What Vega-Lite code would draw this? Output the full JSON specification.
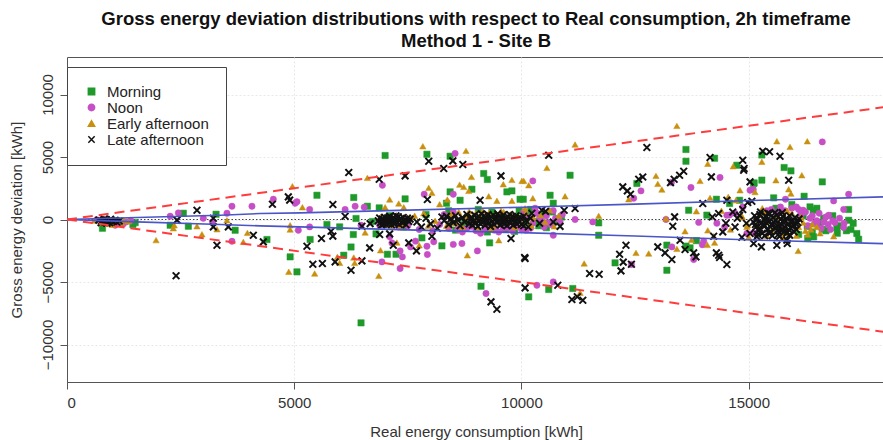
{
"$schema":"https://vega.github.io/schema/vega-lite/v6.json",
"width":818,"height":325,
"autosize":{"type":"none"},
"padding":{"left":67,"top":57,"right":0,"bottom":58},
"background":"white",
"title":{"text":["Gross energy deviation distributions with respect to Real consumption, 2h timeframe","Method 1 - Site B"],"font":"Liberation Sans","fontSize":18.5,"fontWeight":"bold","color":"#111","anchor":"middle","frame":"group","offset":7,"lineHeight":22},
"config":{
"view":{"stroke":"#555","strokeWidth":1},
"axis":{"labelFont":"Liberation Sans","labelFontSize":15,"labelColor":"#333","tickColor":"#555","tickSize":7,"domainColor":"#555","titleFont":"Liberation Sans","titleFontSize":15,"titleFontWeight":"normal","titleColor":"#333","grid":true,"gridColor":"#e8e8e8","gridDash":[2,2]},
"legend":{"orient":"none","legendX":0,"legendY":10,"fillColor":"white","strokeColor":"#444","padding":17,"labelFont":"Liberation Sans","labelFontSize":15,"labelColor":"#222","symbolSize":40,"symbolStrokeWidth":1.5,"rowPadding":0,"labelOffset":8,"labelLimit":300}
},
"datasets":{
"lines":[
{"g":"zero","x":0,"y":0},{"g":"zero","x":18000,"y":0},
{"g":"r_up","x":0,"y":0},{"g":"r_up","x":18000,"y":9000},
{"g":"r_lo","x":0,"y":0},{"g":"r_lo","x":18000,"y":-9000},
{"g":"b_up","x":0,"y":0},{"g":"b_up","x":1540,"y":160},{"g":"b_up","x":3370,"y":340},{"g":"b_up","x":4250,"y":480},{"g":"b_up","x":5130,"y":530},{"g":"b_up","x":7500,"y":750},{"g":"b_up","x":10000,"y":980},{"g":"b_up","x":12500,"y":1230},{"g":"b_up","x":15250,"y":1540},{"g":"b_up","x":17960,"y":1810},
{"g":"b_lo","x":0,"y":0},{"g":"b_lo","x":1540,"y":-190},{"g":"b_lo","x":3370,"y":-400},{"g":"b_lo","x":4250,"y":-510},{"g":"b_lo","x":5130,"y":-590},{"g":"b_lo","x":7500,"y":-830},{"g":"b_lo","x":10000,"y":-1050},{"g":"b_lo","x":12500,"y":-1320},{"g":"b_lo","x":15250,"y":-1660},{"g":"b_lo","x":17960,"y":-1930}
],
"pts":[
{"s":"Morning","x":780,"y":-700},{"s":"Morning","x":1100,"y":-100},{"s":"Morning","x":1500,"y":-250},{"s":"Morning","x":1450,"y":-400},
{"s":"Morning","x":2560,"y":500},{"s":"Morning","x":2270,"y":-460},{"s":"Morning","x":2670,"y":-540},{"s":"Morning","x":3280,"y":420},{"s":"Morning","x":3700,"y":-860},{"s":"Morning","x":4400,"y":-1600},{"s":"Morning","x":4910,"y":-2990},{"s":"Morning","x":5060,"y":-4190},{"s":"Morning","x":5350,"y":-1600},
{"s":"Morning","x":7000,"y":5120},{"s":"Morning","x":7920,"y":5220},{"s":"Morning","x":8430,"y":5060},{"s":"Morning","x":9170,"y":3680},{"s":"Morning","x":9250,"y":3200},{"s":"Morning","x":5500,"y":1940},{"s":"Morning","x":7440,"y":1650},{"s":"Morning","x":6310,"y":1760},{"s":"Morning","x":6610,"y":1060},{"s":"Morning","x":6870,"y":930},{"s":"Morning","x":6360,"y":80},{"s":"Morning","x":6720,"y":-160},{"s":"Morning","x":5720,"y":-400},{"s":"Morning","x":6000,"y":-590},{"s":"Morning","x":6300,"y":-1200},{"s":"Morning","x":6800,"y":-1150},{"s":"Morning","x":7810,"y":-1470},{"s":"Morning","x":6250,"y":-2200},{"s":"Morning","x":7050,"y":-2780},{"s":"Morning","x":7240,"y":-2780},{"s":"Morning","x":6090,"y":-2860},{"s":"Morning","x":6470,"y":-8270},{"s":"Morning","x":8250,"y":-2110},{"s":"Morning","x":9300,"y":-1870},{"s":"Morning","x":9110,"y":-5340},{"s":"Morning","x":10160,"y":-6190},{"s":"Morning","x":9680,"y":2210},{"s":"Morning","x":9790,"y":2290},{"s":"Morning","x":9970,"y":1620},{"s":"Morning","x":8910,"y":2420},{"s":"Morning","x":8650,"y":1540},{"s":"Morning","x":8430,"y":2210},{"s":"Morning","x":8350,"y":1300},
{"s":"Morning","x":11070,"y":3540},{"s":"Morning","x":13620,"y":5600},{"s":"Morning","x":13620,"y":4660},{"s":"Morning","x":14250,"y":4900},{"s":"Morning","x":12540,"y":2880},{"s":"Morning","x":10040,"y":1620},{"s":"Morning","x":10630,"y":1940},{"s":"Morning","x":10700,"y":1300},{"s":"Morning","x":11700,"y":-270},{"s":"Morning","x":11700,"y":-1260},{"s":"Morning","x":10600,"y":-5600},{"s":"Morning","x":11130,"y":-5520},{"s":"Morning","x":12060,"y":-3470},{"s":"Morning","x":13200,"y":-2050},{"s":"Morning","x":13200,"y":-4060},{"s":"Morning","x":13620,"y":-2130},{"s":"Morning","x":13710,"y":-2270},{"s":"Morning","x":13850,"y":-1690},{"s":"Morning","x":13680,"y":740},{"s":"Morning","x":14080,"y":350},{"s":"Morning","x":14290,"y":1620},{"s":"Morning","x":14580,"y":1280},{"s":"Morning","x":14800,"y":1540},{"s":"Morning","x":14740,"y":4340},{"s":"Morning","x":15110,"y":2870},
{"s":"Morning","x":15290,"y":5160},{"s":"Morning","x":15780,"y":4160},{"s":"Morning","x":15930,"y":3890},{"s":"Morning","x":16620,"y":3010},{"s":"Morning","x":16220,"y":1860},{"s":"Morning","x":15550,"y":1730},{"s":"Morning","x":15120,"y":2930},{"s":"Morning","x":15290,"y":3150},{"s":"Morning","x":17200,"y":800},{"s":"Morning","x":16350,"y":1010},{"s":"Morning","x":16420,"y":740},{"s":"Morning","x":17200,"y":-60},{"s":"Morning","x":17300,"y":-300},{"s":"Morning","x":16940,"y":-640},{"s":"Morning","x":17380,"y":-1120},{"s":"Morning","x":17420,"y":-1580},{"s":"Morning","x":16620,"y":-780},{"s":"Morning","x":16430,"y":-1390},{"s":"Morning","x":16290,"y":-550},
{"s":"Morning","x":7100,"y":300},{"s":"Morning","x":7400,"y":-600},{"s":"Morning","x":7900,"y":400},{"s":"Morning","x":8400,"y":700},{"s":"Morning","x":8750,"y":-350},{"s":"Morning","x":9050,"y":800},{"s":"Morning","x":9350,"y":600},{"s":"Morning","x":9650,"y":-800},{"s":"Morning","x":9950,"y":700},{"s":"Morning","x":10150,"y":300},{"s":"Morning","x":8550,"y":-850},{"s":"Morning","x":9250,"y":-1000},{"s":"Morning","x":9850,"y":-950},
{"s":"Morning","x":10100,"y":-200},{"s":"Morning","x":10200,"y":800},{"s":"Morning","x":10380,"y":-500},{"s":"Morning","x":10480,"y":400},{"s":"Morning","x":10580,"y":-300},{"s":"Morning","x":10680,"y":600},{"s":"Morning","x":10780,"y":-100},{"s":"Morning","x":10880,"y":200},{"s":"Morning","x":10350,"y":-150},{"s":"Morning","x":10550,"y":-650},
{"s":"Morning","x":16200,"y":300},{"s":"Morning","x":16400,"y":-1000},{"s":"Morning","x":16550,"y":-300},{"s":"Morning","x":16700,"y":-900},{"s":"Morning","x":16850,"y":300},{"s":"Morning","x":17000,"y":-500},{"s":"Morning","x":17150,"y":-900},{"s":"Morning","x":16300,"y":-1500},{"s":"Morning","x":16650,"y":100},{"s":"Morning","x":16950,"y":-1100},{"s":"Morning","x":17250,"y":-800},{"s":"Morning","x":16100,"y":-1200},{"s":"Morning","x":15950,"y":1200},{"s":"Morning","x":16500,"y":900},{"s":"Morning","x":15600,"y":900},

{"s":"Noon","x":650,"y":-20},{"s":"Noon","x":1060,"y":-460},{"s":"Noon","x":1150,"y":-300},{"s":"Noon","x":1300,"y":-200},{"s":"Noon","x":1400,"y":-80},{"s":"Noon","x":1230,"y":-380},
{"s":"Noon","x":2450,"y":530},{"s":"Noon","x":2270,"y":260},{"s":"Noon","x":3000,"y":100},{"s":"Noon","x":3200,"y":-200},{"s":"Noon","x":3520,"y":500},{"s":"Noon","x":3630,"y":1060},{"s":"Noon","x":3630,"y":-1740},{"s":"Noon","x":4070,"y":1060},{"s":"Noon","x":4540,"y":1620},{"s":"Noon","x":5020,"y":1300},{"s":"Noon","x":5090,"y":-860},{"s":"Noon","x":5060,"y":1420},{"s":"Noon","x":5340,"y":800},{"s":"Noon","x":5340,"y":-590},
{"s":"Noon","x":8540,"y":5280},{"s":"Noon","x":6940,"y":2740},{"s":"Noon","x":7860,"y":2020},{"s":"Noon","x":6340,"y":1060},{"s":"Noon","x":6540,"y":980},{"s":"Noon","x":6120,"y":800},{"s":"Noon","x":6470,"y":-460},{"s":"Noon","x":7150,"y":-1870},{"s":"Noon","x":7330,"y":-2510},{"s":"Noon","x":7560,"y":-2190},{"s":"Noon","x":7670,"y":-1730},{"s":"Noon","x":7920,"y":-2140},{"s":"Noon","x":7930,"y":-2800},{"s":"Noon","x":8070,"y":-1780},{"s":"Noon","x":6930,"y":-3390},{"s":"Noon","x":7330,"y":-3920},{"s":"Noon","x":7380,"y":-2990},{"s":"Noon","x":9030,"y":-2510},{"s":"Noon","x":8690,"y":-1920},{"s":"Noon","x":8500,"y":-1990},{"s":"Noon","x":9220,"y":-5920},{"s":"Noon","x":8500,"y":2020},{"s":"Noon","x":7100,"y":-1380},
{"s":"Noon","x":10250,"y":3090},{"s":"Noon","x":14370,"y":3360},{"s":"Noon","x":13300,"y":2970},{"s":"Noon","x":13730,"y":2560},{"s":"Noon","x":12630,"y":2290},{"s":"Noon","x":12470,"y":1700},{"s":"Noon","x":11180,"y":0},{"s":"Noon","x":11570,"y":-190},{"s":"Noon","x":10700,"y":-1260},{"s":"Noon","x":10700,"y":-4990},{"s":"Noon","x":10340,"y":-5260},{"s":"Noon","x":12420,"y":-3600},{"s":"Noon","x":13310,"y":-2190},{"s":"Noon","x":13790,"y":-3200},{"s":"Noon","x":13980,"y":-2020},{"s":"Noon","x":13900,"y":-230},{"s":"Noon","x":14580,"y":360},{"s":"Noon","x":14870,"y":1010},{"s":"Noon","x":15030,"y":2340},{"s":"Noon","x":15100,"y":-1070},{"s":"Noon","x":13180,"y":0},
{"s":"Noon","x":16620,"y":6210},{"s":"Noon","x":17200,"y":2020},{"s":"Noon","x":15810,"y":1620},{"s":"Noon","x":16870,"y":1490},{"s":"Noon","x":15100,"y":2400},{"s":"Noon","x":17090,"y":800},{"s":"Noon","x":16200,"y":740},{"s":"Noon","x":16760,"y":340},{"s":"Noon","x":17090,"y":-640},{"s":"Noon","x":16500,"y":-300},{"s":"Noon","x":14470,"y":-590},{"s":"Noon","x":14520,"y":340},{"s":"Noon","x":14010,"y":-1740},{"s":"Noon","x":14960,"y":-1120},
{"s":"Noon","x":7000,"y":-300},{"s":"Noon","x":7300,"y":-600},{"s":"Noon","x":7500,"y":-500},{"s":"Noon","x":6880,"y":-450},
{"s":"Noon","x":7750,"y":-800},{"s":"Noon","x":8050,"y":-900},{"s":"Noon","x":8200,"y":-400},
{"s":"Noon","x":8400,"y":-700},{"s":"Noon","x":8600,"y":-800},{"s":"Noon","x":8800,"y":-700},{"s":"Noon","x":9000,"y":-900},{"s":"Noon","x":9200,"y":-750},{"s":"Noon","x":9400,"y":-850},{"s":"Noon","x":9600,"y":-700},{"s":"Noon","x":9800,"y":-900},{"s":"Noon","x":10000,"y":-750},{"s":"Noon","x":8500,"y":600},{"s":"Noon","x":8900,"y":-550},{"s":"Noon","x":9300,"y":-600},{"s":"Noon","x":9700,"y":-650},{"s":"Noon","x":10100,"y":-850},{"s":"Noon","x":8700,"y":-1000},{"s":"Noon","x":9100,"y":-1100},{"s":"Noon","x":9500,"y":-1000},{"s":"Noon","x":9900,"y":-550},{"s":"Noon","x":10200,"y":-700},{"s":"Noon","x":8300,"y":400},
{"s":"Noon","x":10050,"y":600},{"s":"Noon","x":10150,"y":200},{"s":"Noon","x":10250,"y":-300},{"s":"Noon","x":10350,"y":500},{"s":"Noon","x":10450,"y":-100},{"s":"Noon","x":10550,"y":300},{"s":"Noon","x":10650,"y":-400},{"s":"Noon","x":10750,"y":100},{"s":"Noon","x":10850,"y":-200},{"s":"Noon","x":10300,"y":900},{"s":"Noon","x":10500,"y":-600},{"s":"Noon","x":10700,"y":700},{"s":"Noon","x":10400,"y":100},{"s":"Noon","x":10600,"y":-250},{"s":"Noon","x":10900,"y":400},
{"s":"Noon","x":15500,"y":800},{"s":"Noon","x":15650,"y":600},{"s":"Noon","x":15800,"y":700},{"s":"Noon","x":15950,"y":900},{"s":"Noon","x":16100,"y":800},{"s":"Noon","x":16250,"y":600},{"s":"Noon","x":16400,"y":300},{"s":"Noon","x":16550,"y":500},{"s":"Noon","x":16700,"y":200},{"s":"Noon","x":16850,"y":-100},{"s":"Noon","x":16300,"y":-500},{"s":"Noon","x":16450,"y":-300},{"s":"Noon","x":16600,"y":-700},{"s":"Noon","x":16750,"y":-400},{"s":"Noon","x":16900,"y":-250},{"s":"Noon","x":17000,"y":100},{"s":"Noon","x":16150,"y":400},{"s":"Noon","x":16350,"y":100},{"s":"Noon","x":16050,"y":1000},{"s":"Noon","x":15700,"y":1000},{"s":"Noon","x":16650,"y":-200},{"s":"Noon","x":16800,"y":-800},{"s":"Noon","x":17100,"y":-300},{"s":"Noon","x":16500,"y":-100},{"s":"Noon","x":15400,"y":700},
{"s":"Noon","x":14300,"y":-300},{"s":"Noon","x":14700,"y":500},

{"s":"Early afternoon","x":600,"y":-80},{"s":"Early afternoon","x":900,"y":-350},{"s":"Early afternoon","x":1200,"y":-250},{"s":"Early afternoon","x":1350,"y":-150},{"s":"Early afternoon","x":1000,"y":-420},{"s":"Early afternoon","x":1250,"y":-50},
{"s":"Early afternoon","x":1960,"y":-1650},{"s":"Early afternoon","x":2340,"y":-700},{"s":"Early afternoon","x":2360,"y":-460},{"s":"Early afternoon","x":2860,"y":-540},{"s":"Early afternoon","x":2970,"y":-1180},{"s":"Early afternoon","x":3300,"y":-780},{"s":"Early afternoon","x":3970,"y":-1070},{"s":"Early afternoon","x":3880,"y":-1790},{"s":"Early afternoon","x":3520,"y":-60},{"s":"Early afternoon","x":4960,"y":2660},{"s":"Early afternoon","x":4910,"y":-460},{"s":"Early afternoon","x":4880,"y":-4180},{"s":"Early afternoon","x":4910,"y":-800},{"s":"Early afternoon","x":5180,"y":980},
{"s":"Early afternoon","x":7830,"y":5860},{"s":"Early afternoon","x":8780,"y":5490},{"s":"Early afternoon","x":6610,"y":3330},{"s":"Early afternoon","x":8900,"y":3410},{"s":"Early afternoon","x":7960,"y":2530},{"s":"Early afternoon","x":8030,"y":2130},{"s":"Early afternoon","x":7100,"y":1600},{"s":"Early afternoon","x":7000,"y":980},{"s":"Early afternoon","x":7300,"y":1280},{"s":"Early afternoon","x":7410,"y":980},{"s":"Early afternoon","x":6560,"y":-1040},{"s":"Early afternoon","x":7260,"y":-1840},{"s":"Early afternoon","x":7750,"y":-2060},{"s":"Early afternoon","x":6900,"y":-2460},{"s":"Early afternoon","x":6860,"y":-4510},{"s":"Early afternoon","x":5950,"y":-2990},{"s":"Early afternoon","x":6000,"y":-3470},{"s":"Early afternoon","x":6310,"y":-3040},{"s":"Early afternoon","x":6330,"y":-3470},{"s":"Early afternoon","x":5450,"y":-4320},{"s":"Early afternoon","x":8810,"y":-2860},{"s":"Early afternoon","x":9500,"y":-1660},{"s":"Early afternoon","x":9600,"y":2820},{"s":"Early afternoon","x":9790,"y":3170},{"s":"Early afternoon","x":10010,"y":3090},{"s":"Early afternoon","x":9790,"y":1500},{"s":"Early afternoon","x":8730,"y":2610},{"s":"Early afternoon","x":8840,"y":2290},{"s":"Early afternoon","x":8640,"y":2790},{"s":"Early afternoon","x":8200,"y":1220},{"s":"Early afternoon","x":9280,"y":1860},{"s":"Early afternoon","x":9460,"y":1500},{"s":"Early afternoon","x":8370,"y":1600},
{"s":"Early afternoon","x":13420,"y":7490},{"s":"Early afternoon","x":11180,"y":6000},{"s":"Early afternoon","x":10560,"y":4130},{"s":"Early afternoon","x":14100,"y":4460},{"s":"Early afternoon","x":13930,"y":3090},{"s":"Early afternoon","x":12960,"y":3490},{"s":"Early afternoon","x":13090,"y":2400},{"s":"Early afternoon","x":13000,"y":2850},{"s":"Early afternoon","x":12360,"y":1620},{"s":"Early afternoon","x":10050,"y":3090},{"s":"Early afternoon","x":10160,"y":2740},{"s":"Early afternoon","x":10250,"y":1700},{"s":"Early afternoon","x":10960,"y":1860},{"s":"Early afternoon","x":11700,"y":290},{"s":"Early afternoon","x":11380,"y":-3520},{"s":"Early afternoon","x":12520,"y":-2670},{"s":"Early afternoon","x":12800,"y":-2720},{"s":"Early afternoon","x":13420,"y":-2350},{"s":"Early afternoon","x":13600,"y":-940},{"s":"Early afternoon","x":13740,"y":-1630},{"s":"Early afternoon","x":14090,"y":-2030},{"s":"Early afternoon","x":14250,"y":-1850},{"s":"Early afternoon","x":14230,"y":-1340},{"s":"Early afternoon","x":13180,"y":80},{"s":"Early afternoon","x":13850,"y":660},{"s":"Early afternoon","x":14150,"y":1730},{"s":"Early afternoon","x":14550,"y":1810},{"s":"Early afternoon","x":14720,"y":1540},{"s":"Early afternoon","x":14860,"y":180},{"s":"Early afternoon","x":14810,"y":2340},{"s":"Early afternoon","x":14660,"y":4260},{"s":"Early afternoon","x":14980,"y":-460},{"s":"Early afternoon","x":14100,"y":-870},{"s":"Early afternoon","x":11290,"y":-5860},
{"s":"Early afternoon","x":15620,"y":6260},{"s":"Early afternoon","x":16290,"y":6260},{"s":"Early afternoon","x":15910,"y":5810},{"s":"Early afternoon","x":15290,"y":4620},{"s":"Early afternoon","x":16170,"y":3540},{"s":"Early afternoon","x":15600,"y":3140},{"s":"Early afternoon","x":15880,"y":2420},{"s":"Early afternoon","x":15930,"y":2070},{"s":"Early afternoon","x":15140,"y":2200},{"s":"Early afternoon","x":16870,"y":-1340},{"s":"Early afternoon","x":16570,"y":-1100},{"s":"Early afternoon","x":16090,"y":-2510},{"s":"Early afternoon","x":16370,"y":-800},{"s":"Early afternoon","x":14850,"y":280},{"s":"Early afternoon","x":14960,"y":-590},{"s":"Early afternoon","x":15000,"y":-1390},
{"s":"Early afternoon","x":6900,"y":200},{"s":"Early afternoon","x":7050,"y":-400},{"s":"Early afternoon","x":7250,"y":350},{"s":"Early afternoon","x":7450,"y":-300},{"s":"Early afternoon","x":7150,"y":-500},{"s":"Early afternoon","x":7550,"y":200},{"s":"Early afternoon","x":7350,"y":-480},{"s":"Early afternoon","x":6950,"y":-200},
{"s":"Early afternoon","x":7650,"y":300},{"s":"Early afternoon","x":7850,"y":500},{"s":"Early afternoon","x":8100,"y":-100},{"s":"Early afternoon","x":7950,"y":-500},
{"s":"Early afternoon","x":8350,"y":-500},{"s":"Early afternoon","x":8450,"y":400},{"s":"Early afternoon","x":8550,"y":-300},{"s":"Early afternoon","x":8620,"y":600},{"s":"Early afternoon","x":8700,"y":-600},{"s":"Early afternoon","x":8780,"y":250},{"s":"Early afternoon","x":8850,"y":650},{"s":"Early afternoon","x":8930,"y":-200},{"s":"Early afternoon","x":9000,"y":500},{"s":"Early afternoon","x":9050,"y":-650},{"s":"Early afternoon","x":9130,"y":200},{"s":"Early afternoon","x":9210,"y":-300},{"s":"Early afternoon","x":9290,"y":550},{"s":"Early afternoon","x":9370,"y":-550},{"s":"Early afternoon","x":9450,"y":300},{"s":"Early afternoon","x":9530,"y":-350},{"s":"Early afternoon","x":9610,"y":600},{"s":"Early afternoon","x":9690,"y":-200},{"s":"Early afternoon","x":9770,"y":450},{"s":"Early afternoon","x":9850,"y":-600},{"s":"Early afternoon","x":9930,"y":300},{"s":"Early afternoon","x":10020,"y":-350},{"s":"Early afternoon","x":10100,"y":500},{"s":"Early afternoon","x":8480,"y":-150},{"s":"Early afternoon","x":9150,"y":700},{"s":"Early afternoon","x":9550,"y":700},{"s":"Early afternoon","x":9330,"y":-700},{"s":"Early afternoon","x":8980,"y":50},{"s":"Early afternoon","x":9720,"y":50},{"s":"Early afternoon","x":10180,"y":-450},
{"s":"Early afternoon","x":10080,"y":900},{"s":"Early afternoon","x":10220,"y":-500},{"s":"Early afternoon","x":10420,"y":350},{"s":"Early afternoon","x":10520,"y":-200},{"s":"Early afternoon","x":10620,"y":750},{"s":"Early afternoon","x":10720,"y":-550},{"s":"Early afternoon","x":10820,"y":300},{"s":"Early afternoon","x":10260,"y":150},
{"s":"Early afternoon","x":15200,"y":-400},{"s":"Early afternoon","x":15350,"y":600},{"s":"Early afternoon","x":15500,"y":-900},{"s":"Early afternoon","x":15650,"y":200},{"s":"Early afternoon","x":15800,"y":-1100},{"s":"Early afternoon","x":15950,"y":500},{"s":"Early afternoon","x":16100,"y":-600},{"s":"Early afternoon","x":16250,"y":-900},{"s":"Early afternoon","x":16400,"y":-400},{"s":"Early afternoon","x":16150,"y":200},{"s":"Early afternoon","x":15400,"y":-1300},{"s":"Early afternoon","x":15750,"y":-1450},{"s":"Early afternoon","x":16050,"y":-1300},{"s":"Early afternoon","x":16300,"y":-1200},{"s":"Early afternoon","x":16500,"y":-600},{"s":"Early afternoon","x":15300,"y":900},{"s":"Early afternoon","x":16200,"y":-250},{"s":"Early afternoon","x":15850,"y":700},
{"s":"Early afternoon","x":14400,"y":700},{"s":"Early afternoon","x":14600,"y":-800},

{"s":"Late afternoon","x":700,"y":-50},{"s":"Late afternoon","x":760,"y":-120},{"s":"Late afternoon","x":800,"y":-80},{"s":"Late afternoon","x":830,"y":-200},{"s":"Late afternoon","x":870,"y":-30},{"s":"Late afternoon","x":900,"y":-150},{"s":"Late afternoon","x":940,"y":-260},{"s":"Late afternoon","x":980,"y":-100},{"s":"Late afternoon","x":1020,"y":-180},{"s":"Late afternoon","x":1060,"y":-60},{"s":"Late afternoon","x":1100,"y":-220},{"s":"Late afternoon","x":880,"y":-300},{"s":"Late afternoon","x":750,"y":-250},{"s":"Late afternoon","x":960,"y":20},{"s":"Late afternoon","x":1150,"y":-120},{"s":"Late afternoon","x":820,"y":40},
{"s":"Late afternoon","x":2400,"y":-4500},{"s":"Late afternoon","x":2420,"y":-50},{"s":"Late afternoon","x":2860,"y":740},{"s":"Late afternoon","x":3220,"y":100},{"s":"Late afternoon","x":3220,"y":-590},{"s":"Late afternoon","x":3300,"y":-2060},{"s":"Late afternoon","x":3550,"y":-590},{"s":"Late afternoon","x":4100,"y":-1260},{"s":"Late afternoon","x":4320,"y":-1790},{"s":"Late afternoon","x":4520,"y":1220},{"s":"Late afternoon","x":4870,"y":1810},{"s":"Late afternoon","x":4900,"y":1550},
{"s":"Late afternoon","x":7960,"y":4660},{"s":"Late afternoon","x":8490,"y":4690},{"s":"Late afternoon","x":8710,"y":4400},{"s":"Late afternoon","x":8290,"y":4080},{"s":"Late afternoon","x":6200,"y":3760},{"s":"Late afternoon","x":6870,"y":3220},{"s":"Late afternoon","x":7440,"y":3490},{"s":"Late afternoon","x":9550,"y":3490},{"s":"Late afternoon","x":7930,"y":1600},{"s":"Late afternoon","x":5850,"y":1200},{"s":"Late afternoon","x":6120,"y":260},{"s":"Late afternoon","x":6490,"y":-540},{"s":"Late afternoon","x":6670,"y":-330},{"s":"Late afternoon","x":5810,"y":-940},{"s":"Late afternoon","x":5850,"y":-1330},{"s":"Late afternoon","x":6880,"y":-1200},{"s":"Late afternoon","x":7100,"y":-1150},{"s":"Late afternoon","x":5600,"y":-1520},{"s":"Late afternoon","x":5280,"y":-2140},{"s":"Late afternoon","x":6660,"y":-2270},{"s":"Late afternoon","x":7180,"y":-2060},{"s":"Late afternoon","x":7520,"y":-1870},{"s":"Late afternoon","x":7690,"y":-2510},{"s":"Late afternoon","x":8030,"y":-1340},{"s":"Late afternoon","x":5900,"y":-3390},{"s":"Late afternoon","x":6490,"y":-3310},{"s":"Late afternoon","x":6250,"y":-4060},{"s":"Late afternoon","x":5410,"y":-3580},{"s":"Late afternoon","x":5620,"y":-3520},{"s":"Late afternoon","x":9770,"y":-1520},{"s":"Late afternoon","x":10080,"y":-3120},{"s":"Late afternoon","x":9330,"y":-6590},{"s":"Late afternoon","x":9460,"y":-7180},{"s":"Late afternoon","x":10080,"y":-5470},{"s":"Late afternoon","x":9090,"y":1540},
{"s":"Late afternoon","x":12760,"y":5760},{"s":"Late afternoon","x":10600,"y":5140},{"s":"Late afternoon","x":14150,"y":4960},{"s":"Late afternoon","x":14180,"y":3410},{"s":"Late afternoon","x":13570,"y":3860},{"s":"Late afternoon","x":13480,"y":3540},{"s":"Late afternoon","x":13360,"y":3220},{"s":"Late afternoon","x":13280,"y":2950},{"s":"Late afternoon","x":12580,"y":3220},{"s":"Late afternoon","x":12670,"y":3400},{"s":"Late afternoon","x":12230,"y":2610},{"s":"Late afternoon","x":12330,"y":2290},{"s":"Late afternoon","x":12400,"y":2020},{"s":"Late afternoon","x":10450,"y":740},{"s":"Late afternoon","x":11180,"y":880},{"s":"Late afternoon","x":10940,"y":740},{"s":"Late afternoon","x":10070,"y":-3040},{"s":"Late afternoon","x":11500,"y":-4320},{"s":"Late afternoon","x":11710,"y":-4380},{"s":"Late afternoon","x":10800,"y":-5260},{"s":"Late afternoon","x":11110,"y":-6400},{"s":"Late afternoon","x":11230,"y":-6180},{"s":"Late afternoon","x":11350,"y":-6460},{"s":"Late afternoon","x":12300,"y":-2060},{"s":"Late afternoon","x":12160,"y":-2780},{"s":"Late afternoon","x":12240,"y":-3410},{"s":"Late afternoon","x":12420,"y":-3580},{"s":"Late afternoon","x":12190,"y":-4110},{"s":"Late afternoon","x":13000,"y":-2190},{"s":"Late afternoon","x":13160,"y":-2670},{"s":"Late afternoon","x":13310,"y":-3200},{"s":"Late afternoon","x":13490,"y":-1660},{"s":"Late afternoon","x":13600,"y":-2400},{"s":"Late afternoon","x":13790,"y":-2670},{"s":"Late afternoon","x":13840,"y":-2990},{"s":"Late afternoon","x":14290,"y":-2670},{"s":"Late afternoon","x":14360,"y":-3040},{"s":"Late afternoon","x":14520,"y":-3600},{"s":"Late afternoon","x":13370,"y":210},{"s":"Late afternoon","x":13330,"y":-540},{"s":"Late afternoon","x":13990,"y":1280},{"s":"Late afternoon","x":14340,"y":480},{"s":"Late afternoon","x":14230,"y":-1340},{"s":"Late afternoon","x":14870,"y":800},{"s":"Late afternoon","x":14980,"y":1360},{"s":"Late afternoon","x":14800,"y":330},{"s":"Late afternoon","x":15030,"y":3010},{"s":"Late afternoon","x":14870,"y":4740},{"s":"Late afternoon","x":14900,"y":4080},{"s":"Late afternoon","x":15030,"y":-1120},{"s":"Late afternoon","x":15180,"y":-1380},{"s":"Late afternoon","x":14340,"y":-2860},{"s":"Late afternoon","x":14430,"y":-990},{"s":"Late afternoon","x":14890,"y":3940},{"s":"Late afternoon","x":15070,"y":1460},{"s":"Late afternoon","x":14520,"y":1540},
{"s":"Late afternoon","x":15310,"y":5460},{"s":"Late afternoon","x":15460,"y":5420},{"s":"Late afternoon","x":15690,"y":5060},{"s":"Late afternoon","x":15880,"y":3140},{"s":"Late afternoon","x":15110,"y":-1920},{"s":"Late afternoon","x":15280,"y":-2190},{"s":"Late afternoon","x":15620,"y":-2060},{"s":"Late afternoon","x":15850,"y":-1920},{"s":"Late afternoon","x":15840,"y":-1650},{"s":"Late afternoon","x":14850,"y":-1420},
{"s":"Late afternoon","x":6850,"y":-100},{"s":"Late afternoon","x":6880,"y":120},{"s":"Late afternoon","x":6900,"y":-250},{"s":"Late afternoon","x":6930,"y":30},{"s":"Late afternoon","x":6960,"y":-380},{"s":"Late afternoon","x":6990,"y":180},{"s":"Late afternoon","x":7020,"y":-120},{"s":"Late afternoon","x":7050,"y":-300},{"s":"Late afternoon","x":7080,"y":60},{"s":"Late afternoon","x":7100,"y":250},{"s":"Late afternoon","x":7120,"y":-200},{"s":"Late afternoon","x":7150,"y":-50},{"s":"Late afternoon","x":7180,"y":150},{"s":"Late afternoon","x":7200,"y":-350},{"s":"Late afternoon","x":7230,"y":0},{"s":"Late afternoon","x":7260,"y":-180},{"s":"Late afternoon","x":7290,"y":220},{"s":"Late afternoon","x":7320,"y":-90},{"s":"Late afternoon","x":7350,"y":80},{"s":"Late afternoon","x":7380,"y":-280},{"s":"Late afternoon","x":7400,"y":160},{"s":"Late afternoon","x":7430,"y":-30},{"s":"Late afternoon","x":7460,"y":-420},{"s":"Late afternoon","x":7490,"y":100},{"s":"Late afternoon","x":7520,"y":-150},{"s":"Late afternoon","x":7550,"y":30},{"s":"Late afternoon","x":6970,"y":-60},{"s":"Late afternoon","x":7060,"y":140},{"s":"Late afternoon","x":7210,"y":-260},{"s":"Late afternoon","x":7310,"y":-400},{"s":"Late afternoon","x":7410,"y":-120},{"s":"Late afternoon","x":7140,"y":-420},{"s":"Late afternoon","x":7240,"y":290},{"s":"Late afternoon","x":7000,"y":-320},{"s":"Late afternoon","x":6920,"y":-440},
{"s":"Late afternoon","x":7700,"y":-200},{"s":"Late afternoon","x":7800,"y":-600},{"s":"Late afternoon","x":7900,"y":100},{"s":"Late afternoon","x":8000,"y":-350},{"s":"Late afternoon","x":8150,"y":-700},{"s":"Late afternoon","x":8250,"y":200},
{"s":"Late afternoon","x":8300,"y":-100},{"s":"Late afternoon","x":8350,"y":250},{"s":"Late afternoon","x":8400,"y":-400},{"s":"Late afternoon","x":8450,"y":50},{"s":"Late afternoon","x":8500,"y":-250},{"s":"Late afternoon","x":8550,"y":300},{"s":"Late afternoon","x":8600,"y":-50},{"s":"Late afternoon","x":8650,"y":-500},{"s":"Late afternoon","x":8700,"y":150},{"s":"Late afternoon","x":8750,"y":-200},{"s":"Late afternoon","x":8800,"y":400},{"s":"Late afternoon","x":8850,"y":-350},{"s":"Late afternoon","x":8880,"y":0},{"s":"Late afternoon","x":8900,"y":200},{"s":"Late afternoon","x":8920,"y":-450},{"s":"Late afternoon","x":8950,"y":-100},{"s":"Late afternoon","x":8970,"y":350},{"s":"Late afternoon","x":9000,"y":-250},{"s":"Late afternoon","x":9020,"y":100},{"s":"Late afternoon","x":9040,"y":-550},{"s":"Late afternoon","x":9060,"y":250},{"s":"Late afternoon","x":9080,"y":-50},{"s":"Late afternoon","x":9100,"y":-350},{"s":"Late afternoon","x":9120,"y":450},{"s":"Late afternoon","x":9140,"y":0},{"s":"Late afternoon","x":9160,"y":-200},{"s":"Late afternoon","x":9180,"y":300},{"s":"Late afternoon","x":9200,"y":-450},{"s":"Late afternoon","x":9220,"y":100},{"s":"Late afternoon","x":9240,"y":-100},{"s":"Late afternoon","x":9260,"y":400},{"s":"Late afternoon","x":9280,"y":-300},{"s":"Late afternoon","x":9300,"y":50},{"s":"Late afternoon","x":9320,"y":-550},{"s":"Late afternoon","x":9340,"y":200},{"s":"Late afternoon","x":9360,"y":-150},{"s":"Late afternoon","x":9380,"y":350},{"s":"Late afternoon","x":9400,"y":-400},{"s":"Late afternoon","x":9420,"y":0},{"s":"Late afternoon","x":9440,"y":150},{"s":"Late afternoon","x":9460,"y":-250},{"s":"Late afternoon","x":9480,"y":450},{"s":"Late afternoon","x":9500,"y":-100},{"s":"Late afternoon","x":9520,"y":250},{"s":"Late afternoon","x":9540,"y":-450},{"s":"Late afternoon","x":9560,"y":50},{"s":"Late afternoon","x":9580,"y":-200},{"s":"Late afternoon","x":9600,"y":350},{"s":"Late afternoon","x":9620,"y":-350},{"s":"Late afternoon","x":9640,"y":100},{"s":"Late afternoon","x":9660,"y":-50},{"s":"Late afternoon","x":9680,"y":-500},{"s":"Late afternoon","x":9700,"y":200},{"s":"Late afternoon","x":9720,"y":-150},{"s":"Late afternoon","x":9740,"y":400},{"s":"Late afternoon","x":9760,"y":-300},{"s":"Late afternoon","x":9780,"y":0},{"s":"Late afternoon","x":9800,"y":250},{"s":"Late afternoon","x":9820,"y":-450},{"s":"Late afternoon","x":9840,"y":100},{"s":"Late afternoon","x":9860,"y":-150},{"s":"Late afternoon","x":9880,"y":300},{"s":"Late afternoon","x":9900,"y":-350},{"s":"Late afternoon","x":9920,"y":50},{"s":"Late afternoon","x":9950,"y":-200},{"s":"Late afternoon","x":9980,"y":150},{"s":"Late afternoon","x":10000,"y":-400},{"s":"Late afternoon","x":10050,"y":250},{"s":"Late afternoon","x":10100,"y":-100},{"s":"Late afternoon","x":10150,"y":-600},{"s":"Late afternoon","x":10200,"y":100},
{"s":"Late afternoon","x":10050,"y":-500},{"s":"Late afternoon","x":10230,"y":500},{"s":"Late afternoon","x":10400,"y":-300},{"s":"Late afternoon","x":10530,"y":650},{"s":"Late afternoon","x":10700,"y":-200},{"s":"Late afternoon","x":10850,"y":-550},
{"s":"Late afternoon","x":15100,"y":-200},{"s":"Late afternoon","x":15130,"y":300},{"s":"Late afternoon","x":15160,"y":-600},{"s":"Late afternoon","x":15190,"y":100},{"s":"Late afternoon","x":15220,"y":-900},{"s":"Late afternoon","x":15250,"y":400},{"s":"Late afternoon","x":15280,"y":-300},{"s":"Late afternoon","x":15300,"y":-1100},{"s":"Late afternoon","x":15330,"y":0},{"s":"Late afternoon","x":15360,"y":-500},{"s":"Late afternoon","x":15380,"y":250},{"s":"Late afternoon","x":15410,"y":-800},{"s":"Late afternoon","x":15440,"y":-150},{"s":"Late afternoon","x":15460,"y":450},{"s":"Late afternoon","x":15490,"y":-1000},{"s":"Late afternoon","x":15510,"y":-350},{"s":"Late afternoon","x":15540,"y":150},{"s":"Late afternoon","x":15570,"y":-700},{"s":"Late afternoon","x":15590,"y":-50},{"s":"Late afternoon","x":15620,"y":350},{"s":"Late afternoon","x":15650,"y":-1200},{"s":"Late afternoon","x":15670,"y":-450},{"s":"Late afternoon","x":15700,"y":0},{"s":"Late afternoon","x":15720,"y":-850},{"s":"Late afternoon","x":15750,"y":250},{"s":"Late afternoon","x":15770,"y":-250},{"s":"Late afternoon","x":15800,"y":-600},{"s":"Late afternoon","x":15830,"y":100},{"s":"Late afternoon","x":15850,"y":-1000},{"s":"Late afternoon","x":15880,"y":-350},{"s":"Late afternoon","x":15900,"y":300},{"s":"Late afternoon","x":15930,"y":-700},{"s":"Late afternoon","x":15960,"y":-100},{"s":"Late afternoon","x":15990,"y":-450},{"s":"Late afternoon","x":16020,"y":150},{"s":"Late afternoon","x":16050,"y":-800},{"s":"Late afternoon","x":16080,"y":-250},{"s":"Late afternoon","x":16110,"y":50},{"s":"Late afternoon","x":15150,"y":-400},{"s":"Late afternoon","x":15240,"y":-700},{"s":"Late afternoon","x":15320,"y":-450},{"s":"Late afternoon","x":15400,"y":-50},{"s":"Late afternoon","x":15480,"y":-600},{"s":"Late afternoon","x":15560,"y":-250},{"s":"Late afternoon","x":15640,"y":-900},{"s":"Late afternoon","x":15720,"y":-400},{"s":"Late afternoon","x":15800,"y":-150},{"s":"Late afternoon","x":15880,"y":-800},{"s":"Late afternoon","x":15960,"y":-550},{"s":"Late afternoon","x":16040,"y":-350},{"s":"Late afternoon","x":15260,"y":600},{"s":"Late afternoon","x":15420,"y":500},{"s":"Late afternoon","x":15580,"y":550},{"s":"Late afternoon","x":15740,"y":550},{"s":"Late afternoon","x":15900,"y":-1250},{"s":"Late afternoon","x":15200,"y":-1200},{"s":"Late afternoon","x":15350,"y":-1300},{"s":"Late afternoon","x":15520,"y":-1300},{"s":"Late afternoon","x":15680,"y":-1350},{"s":"Late afternoon","x":15840,"y":-1100},{"s":"Late afternoon","x":16000,"y":-1000},{"s":"Late afternoon","x":15450,"y":-1100},{"s":"Late afternoon","x":15610,"y":-650},{"s":"Late afternoon","x":15780,"y":-950},{"s":"Late afternoon","x":15940,"y":-150},{"s":"Late afternoon","x":15170,"y":-50},
{"s":"Late afternoon","x":14200,"y":200},{"s":"Late afternoon","x":14500,"y":-300},{"s":"Late afternoon","x":14700,"y":-600},{"s":"Late afternoon","x":14650,"y":600},{"s":"Late afternoon","x":14950,"y":-300},{"s":"Late afternoon","x":14750,"y":100}
]
},
"encoding":{
"x":{"field":"x","type":"quantitative","scale":{"domain":[0,18000],"nice":false,"zero":false},"title":"Real energy consumption [kWh]","axis":{"values":[0,5000,10000,15000],"format":"d","labelPadding":6,"titlePadding":14}},
"y":{"field":"y","type":"quantitative","scale":{"domain":[-13000,13000],"nice":false},"title":"Gross energy deviation [kWh]","axis":{"values":[-10000,-5000,0,5000,10000],"format":"d","labelAngle":270,"labelAlign":"center","labelBaseline":"bottom","labelPadding":5,"titlePadding":16}}
},
"layer":[
{"data":{"name":"lines"},"transform":[{"filter":{"field":"g","equal":"zero"}}],"mark":{"type":"line","color":"#444","strokeWidth":1,"strokeDash":[1.5,2]}},
{"data":{"name":"pts"},"transform":[{"filter":"datum.s !== 'Late afternoon'"}],
 "mark":{"type":"point","filled":true,"opacity":1,"size":40,"strokeWidth":0.5},
 "encoding":{
  "fill":{"field":"s","type":"nominal","scale":{"domain":["Morning","Noon","Early afternoon","Late afternoon"],"range":["#1f9a2a","#c64fc6","#c8900f","#111111"]},"legend":{"title":null}},
  "stroke":{"field":"s","type":"nominal","scale":{"domain":["Morning","Noon","Early afternoon","Late afternoon"],"range":["#1f9a2a","#c64fc6","#c8900f","#111111"]},"legend":{"title":null}},
  "shape":{"field":"s","type":"nominal","scale":{"domain":["Morning","Noon","Early afternoon","Late afternoon"],"range":["square","circle","triangle-up","M-1,-1L1,1M-1,1L1,-1"]},"legend":{"title":null}}
 }},
{"data":{"name":"pts"},"transform":[{"filter":"datum.s === 'Late afternoon'"}],
 "mark":{"type":"point","filled":true,"opacity":1,"size":45,"strokeWidth":2},
 "encoding":{
  "fill":{"field":"s","type":"nominal","scale":{"domain":["Morning","Noon","Early afternoon","Late afternoon"],"range":["#1f9a2a","#c64fc6","#c8900f","#111111"]},"legend":{"title":null}},
  "stroke":{"field":"s","type":"nominal","scale":{"domain":["Morning","Noon","Early afternoon","Late afternoon"],"range":["#1f9a2a","#c64fc6","#c8900f","#111111"]},"legend":{"title":null}},
  "shape":{"field":"s","type":"nominal","scale":{"domain":["Morning","Noon","Early afternoon","Late afternoon"],"range":["square","circle","triangle-up","M-1,-1L1,1M-1,1L1,-1"]},"legend":{"title":null}}
 }},
{"data":{"name":"lines"},"transform":[{"filter":{"field":"g","oneOf":["b_up","b_lo"]}}],"mark":{"type":"line","color":"#4a55c8","strokeWidth":1.6},"encoding":{"detail":{"field":"g"}}},
{"data":{"name":"lines"},"transform":[{"filter":{"field":"g","oneOf":["r_up","r_lo"]}}],"mark":{"type":"line","color":"#ff3b3b","strokeWidth":2,"strokeDash":[10,6]},"encoding":{"detail":{"field":"g"}}}
]
}
